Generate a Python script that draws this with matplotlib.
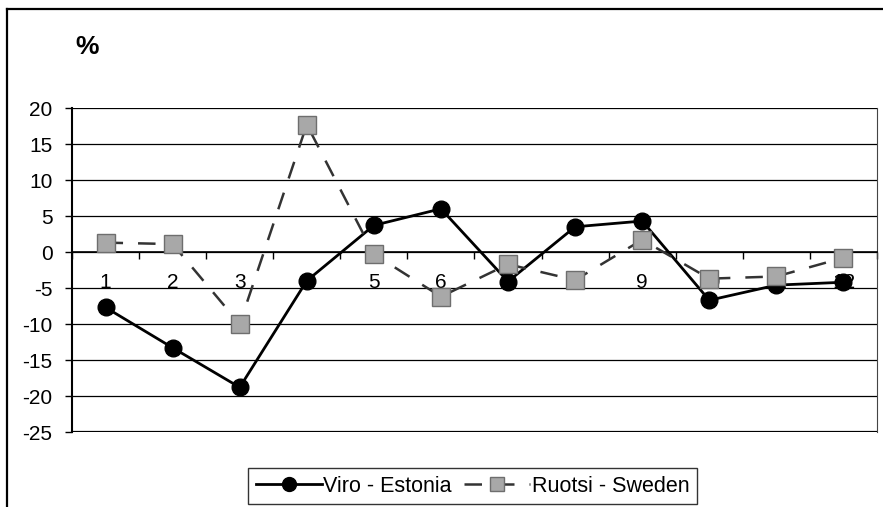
import matplotlib
matplotlib.use("Agg")
import matplotlib.pyplot as plt
import numpy as np

plt.rcParams['font.family'] = ['Liberation Sans', 'DejaVu Sans']
plt.rcParams['axes.unicode_minus'] = False

# months 1..12, change in %
months = [1, 2, 3, 4, 5, 6, 7, 8, 9, 10, 11, 12]
month_labels = ["1", "2", "3", "4", "5", "6", "7", "8", "9", "10", "11", "12"]
estonia = [-7.7, -13.3, -18.8, -4.0, 3.7, 6.0, -4.1, 3.5, 4.3, -6.7, -4.6, -4.2]
sweden = [1.3, 1.1, -10.0, 17.7, -0.3, -6.2, -1.7, -3.9, 1.7, -3.7, -3.4, -0.8]
yticks = [-25, -20, -15, -10, -5, 0, 5, 10, 15, 20]

W, H = 883, 507
fig = plt.figure(figsize=(W / 100, H / 100), dpi=100)

# plot area in pixels: x 72..877, y 108..432
ax = fig.add_axes([72 / W, (H - 432) / H, (877 - 72) / W, 324 / H])

ax.plot(months, estonia, color="black", lw=2, marker="o", ms=12,
        markerfacecolor="black", markeredgecolor="black", label="Viro - Estonia", zorder=3)
ax.plot(months, sweden, color="#333333", lw=1.8, ls=(0, (7, 6)), marker="s", ms=13,
        markerfacecolor="#a8a8a8", markeredgecolor="#6e6e6e", label="Ruotsi - Sweden", zorder=4)

ax.set_xlim(0.5, 12.5)
ax.set_ylim(-25, 20)
ax.set_yticks(yticks)
ax.yaxis.grid(True, color="black", lw=0.9)
ax.set_axisbelow(True)

# category axis sits at zero
ax.spines['bottom'].set_position(('data', 0))
ax.spines['bottom'].set_linewidth(1.2)
ax.axhline(-25, color="black", lw=1.6, zorder=2)
ax.spines['left'].set_linewidth(1.5)
ax.spines['top'].set_visible(False)
ax.spines['right'].set_color("#444444")
ax.spines['right'].set_linestyle((0, (2, 1)))

ax.set_xticks(months)
ax.set_xticklabels(month_labels)
ax.set_xticks(np.arange(0.5, 13, 1), minor=True)
ax.tick_params(axis="x", which="major", length=0, pad=15, labelsize=15)
ax.tick_params(axis="x", which="minor", length=5, direction="out", width=1)
ax.tick_params(axis="y", length=5, width=1, pad=9, labelsize=15)

fig.text(75 / W, 1 - 47 / H, "%", fontsize=19, fontweight="bold", va="center")

leg = fig.legend(loc="upper left", bbox_to_anchor=(248 / W, 1 - 468 / H), ncol=2,
                 fontsize=15.5, frameon=True, fancybox=False, handlelength=3.1,
                 handletextpad=0.05, columnspacing=0.55, borderpad=0.35, borderaxespad=0)
leg.get_frame().set_edgecolor("black")
leg.get_frame().set_linewidth(1)
for h in leg.legend_handles:
    h.set_markersize(10)

# outer chart border (left and top visible)
fig.add_artist(plt.Line2D([7.5 / W, 7.5 / W], [0, 1 - 9 / H], color="black", lw=1.6))
fig.add_artist(plt.Line2D([7.5 / W, 1], [1 - 9 / H, 1 - 9 / H], color="black", lw=1.6))

fig.savefig("out.png", dpi=100)
